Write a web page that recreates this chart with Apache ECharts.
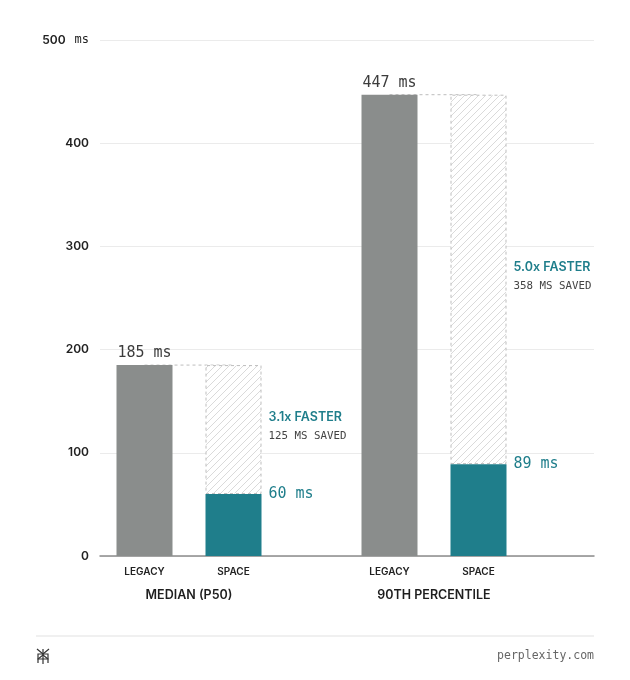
<!DOCTYPE html>
<html>
<head>
<meta charset="utf-8">
<script src="https://cdn.jsdelivr.net/npm/echarts@6/dist/echarts.min.js"></script>
<style>
  html, body { margin: 0; padding: 0; background: #fff; }
  #chart { width: 630px; height: 680px; }
</style>
</head>
<body>
<div id="chart"></div>
<script>
// data
const groups = ['MEDIAN (P50)', '90TH PERCENTILE'];
const versions = ['LEGACY', 'SPACE'];
const legacyMs = [185, 447];
const spaceMs = [60, 89];
const yMax = 500;
const yStep = 100;

const GRAY = '#8a8d8c';
const TEAL = '#1f7e8b';
const SANS = 'Inter, "Liberation Sans", sans-serif';
const MONO = '"DejaVu Sans Mono", "Liberation Mono", monospace';

// diagonal hatch for the "saved" part
function hatch() {
    const s = 7;
    const c = document.createElement('canvas');
    c.width = s; c.height = s;
    const ctx = c.getContext('2d');
    ctx.fillStyle = '#fff';
    ctx.fillRect(0, 0, s, s);
    ctx.strokeStyle = '#dadada';
    ctx.lineWidth = 1;
    ctx.beginPath();
    ctx.moveTo(-1, s + 1); ctx.lineTo(s + 1, -1);
    ctx.moveTo(-1, 1); ctx.lineTo(1, -1);
    ctx.moveTo(s - 1, s + 1); ctx.lineTo(s + 1, s - 1);
    ctx.stroke();
    return c;
}
const hatchImg = hatch();

const chart = echarts.init(document.getElementById('chart'), null, { renderer: 'canvas' });

const gridTop = 40, gridBottom = 124;
const grids = [
    { left: 100, right: 36, top: gridTop, bottom: gridBottom },
    { left: 100, width: 178, top: gridTop, bottom: gridBottom },
    { left: 345, width: 178, top: gridTop, bottom: gridBottom }
];

const xAxes = [{
    gridIndex: 0, type: 'category', data: [''],
    axisLine: { lineStyle: { color: '#8c8c8c', width: 1.5 } },
    axisTick: { show: false }, axisLabel: { show: false }
}];
const yAxes = [{
    gridIndex: 0, type: 'value', min: 0, max: yMax, interval: yStep,
    axisLine: { show: false }, axisTick: { show: false },
    splitLine: { lineStyle: { color: '#ebebeb', width: 1 } },
    axisLabel: {
        margin: 11,
        formatter: v => v === yMax ? '{n|' + v + '}{u|ms}' : '{n|' + v + '}',
        rich: {
            n: { fontFamily: SANS, fontWeight: 600, fontSize: 12, color: '#222' },
            u: { fontFamily: MONO, fontSize: 12, color: '#222', padding: [0, 0, 0, 9] }
        }
    }
}];

const series = [];

groups.forEach((name, g) => {
    const idx = g + 1;
    xAxes.push({
        gridIndex: idx, type: 'category', data: versions,
        axisLine: { show: false }, axisTick: { show: false },
        axisLabel: { margin: 11, fontFamily: SANS, fontWeight: 600, fontSize: 10, color: '#222' },
        name: name, nameLocation: 'middle', nameGap: 33,
        nameTextStyle: { fontFamily: SANS, fontWeight: 600, fontSize: 12.5, color: '#1e1e1e' }
    });
    yAxes.push({ gridIndex: idx, type: 'value', min: 0, max: yMax, show: false });

    const legacy = legacyMs[g];
    const space = spaceMs[g];

    // dashed connector at legacy height
    series.push({
        type: 'line', xAxisIndex: idx, yAxisIndex: idx,
        data: [legacy, legacy], symbol: 'none', silent: true, z: 1,
        lineStyle: { color: '#bdbdbd', width: 1, type: [3, 3] }
    });

    series.push({
        type: 'bar', xAxisIndex: idx, yAxisIndex: idx, stack: 'g' + g,
        barWidth: 56, z: 4, silent: true,
        data: [
            {
                value: legacy, itemStyle: { color: GRAY },
                label: {
                    show: true, position: 'top', distance: 4,
                    formatter: '{c} ms', fontFamily: MONO, fontSize: 15, color: '#3c3c3c'
                }
            },
            {
                value: space, itemStyle: { color: TEAL },
                label: {
                    show: true, position: ['100%', 0], offset: [7, 0],
                    align: 'left', verticalAlign: 'middle',
                    formatter: '{c} ms', fontFamily: MONO, fontSize: 15, color: TEAL
                }
            }
        ]
    });

    series.push({
        type: 'bar', xAxisIndex: idx, yAxisIndex: idx, stack: 'g' + g,
        barWidth: 56, z: 3, silent: true,
        data: ['-', legacy - space],
        itemStyle: {
            color: { image: hatchImg, repeat: 'repeat' },
            borderColor: '#bdbdbd', borderWidth: 1, borderType: [3, 3]
        },
        label: {
            show: true, position: 'right', distance: 7, align: 'left', offset: [0, -3],
            formatter: () => '{f|' + (legacy / space).toFixed(1) + 'x FASTER}\n{s|' + (legacy - space) + ' MS SAVED}',
            rich: {
                f: { fontFamily: SANS, fontWeight: 600, fontSize: 12.5, color: TEAL, lineHeight: 19 },
                s: { fontFamily: MONO, fontSize: 10.8, color: '#444', lineHeight: 19 }
            }
        }
    });
});

chart.setOption({
    backgroundColor: '#fff',
    animation: false,
    grid: grids,
    xAxis: xAxes,
    yAxis: yAxes,
    series: series,
    graphic: [
        {
            type: 'line', shape: { x1: 36, y1: 636, x2: 594, y2: 636 },
            style: { stroke: '#e2e2e2', lineWidth: 1.2 }, silent: true
        },
        {
            type: 'text', right: 36, top: 650,
            style: { text: 'perplexity.com', fontFamily: MONO, fontSize: 11.5, fill: '#666' }
        },
        {
            type: 'group', x: 36, y: 648, silent: true,
            children: [
                { type: 'line', shape: { x1: 7, y1: 1, x2: 7, y2: 16 }, style: { stroke: '#333', lineWidth: 1.2 } },
                { type: 'polyline', shape: { points: [[1, 1], [7, 6], [13, 1]] }, style: { stroke: '#333', lineWidth: 1.2, fill: null } },
                { type: 'rect', shape: { x: 2, y: 6, width: 10, height: 5 }, style: { stroke: '#333', lineWidth: 1.2, fill: null } },
                { type: 'polyline', shape: { points: [[2, 15], [2, 11], [7, 7], [12, 11], [12, 15]] }, style: { stroke: '#333', lineWidth: 1.2, fill: null } }
            ]
        }
    ]
});
</script>
</body>
</html>
